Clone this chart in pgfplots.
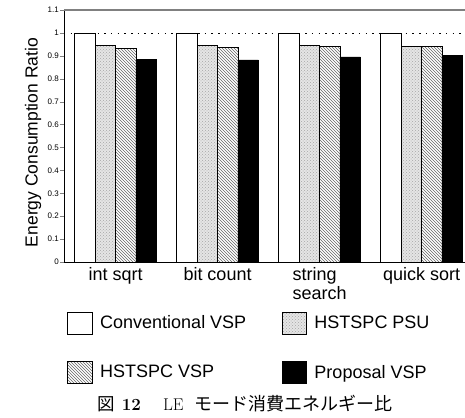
\documentclass[border=0pt]{standalone}
\usepackage{pgfplots}
\pgfplotsset{compat=1.18}
\usepackage{fontspec}
\newfontfamily\arial{Liberation Sans}
\newfontfamily\cjk{Noto Sans CJK JP}
\usetikzlibrary{patterns}

\pgfplotsset{
  ybar legend/.style={legend image code/.code={%
    \draw[#1, draw=black, line width=0.7pt] (0pt,-11.5pt) rectangle (24.5pt,10.5pt);}},
}

\begin{document}
\begin{tikzpicture}
\begin{axis}[
  scale only axis, width=401pt, height=252pt,
  ybar=0pt, bar width=20.4pt,
  xmin=-0.505, xmax=3.426, ymin=0, ymax=1.1,
  axis x line*=bottom, axis y line*=left,
  axis line style={line width=0.9pt, -},
  xtick={0,1,2,3},
  xticklabels={int sqrt, bit count, {string\\search}, quick sort},
  major x tick style={draw=none},
  xticklabel style={font=\arial\fontsize{18}{19}\selectfont, align=left, inner sep=1pt},
  ytick={0,0.1,0.2,0.3,0.4,0.5,0.6,0.7,0.8,0.9,1,1.1},
  yticklabels={0,0.1,0.2,0.3,0.4,0.5,0.6,0.7,0.8,0.9,1,1.1},
  yticklabel style={font=\arial\fontsize{8}{9}\selectfont, inner sep=1pt},
  tick align=outside, major tick length=4pt,
  ylabel={Energy Consumption Ratio},
  ylabel style={font=\arial\fontsize{17.5}{18}\selectfont, at={(axis description cs:-0.0773,0.474)}, anchor=center},
  legend columns=2, legend cell align=left,
  legend style={draw=none, fill=none, inner sep=0pt,
    at={(axis description cs:0,0)}, anchor=north west, xshift=3.3pt, yshift=-49.5pt,
    font=\arial\fontsize{18}{19}\selectfont,
    nodes={inner sep=0pt, inner xsep=7.5pt},
    /tikz/every even column/.append style={column sep=28pt},
    row sep=27pt},
  every axis plot/.append style={draw=black, line width=0.7pt},
]
\draw[gray, line width=1.2pt] (rel axis cs:0,1) -- (rel axis cs:1,1);
\draw[line width=0.8pt, dash pattern=on 1.5pt off 5.2pt] (axis cs:-0.505,1) -- (axis cs:3.426,1);
\addplot[fill=white] coordinates {(0,1) (1,1) (2,1) (3,1)};
\addplot[fill=black!10, postaction={pattern=crosshatch dots, pattern color=black!35}]
  coordinates {(0,0.945) (1,0.946) (2,0.945) (3,0.940)};
\addplot[fill=white, postaction={pattern=north west lines, pattern color=black!60}]
  coordinates {(0,0.932) (1,0.938) (2,0.940) (3,0.940)};
\addplot[fill=black] coordinates {(0,0.885) (1,0.882) (2,0.895) (3,0.902)};
\legend{Conventional VSP, HSTSPC PSU, HSTSPC VSP, Proposal VSP}
\end{axis}
\node[anchor=base west, inner sep=0pt] at (33.5pt,-148.5pt) {\cjk\fontsize{17.5}{18}\selectfont 図};
\node[anchor=base west, inner sep=0pt] at (57.7pt,-148.5pt) {\fontsize{17}{18}\selectfont\bfseries 12};
\node[anchor=base west, inner sep=0pt] at (99pt,-148.5pt) {\fontsize{17}{18}\selectfont LE};
\node[anchor=base west, inner sep=0pt] at (130pt,-148.5pt) {\cjk\fontsize{18}{18}\selectfont モード消費エネルギー比};
\pgfresetboundingbox
\path[use as bounding box] (-64pt,-155pt) rectangle (401pt,262pt);
\end{tikzpicture}
\end{document}
